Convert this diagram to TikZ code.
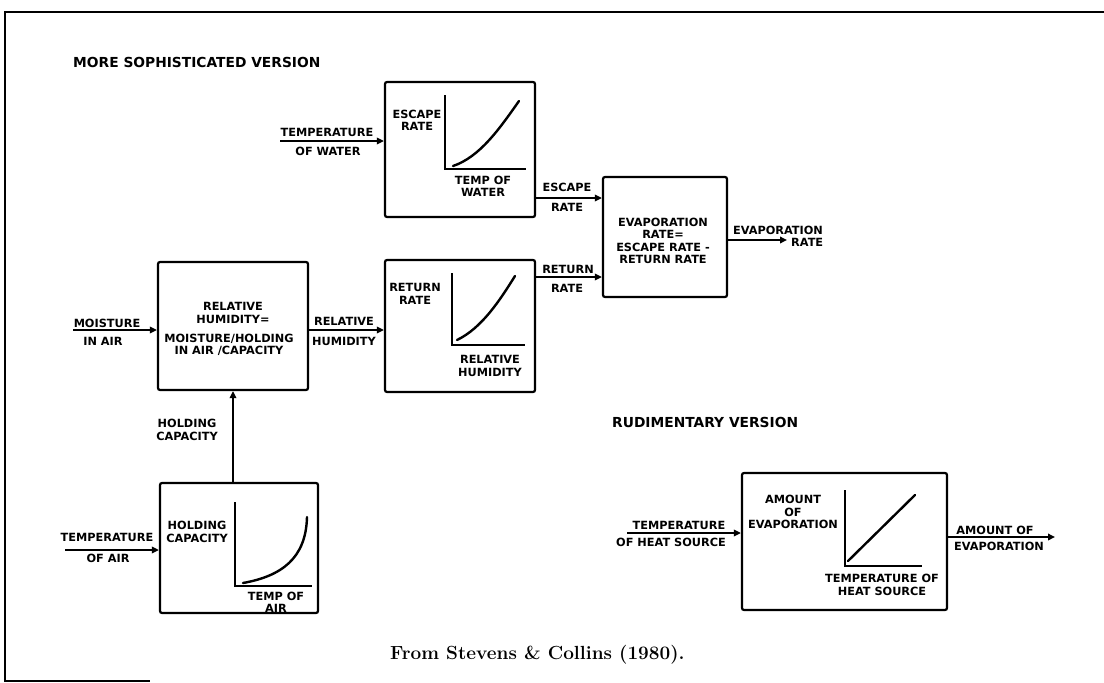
\documentclass[tikz,border=0pt]{standalone}
\usepackage{fontspec}
\usetikzlibrary{arrows.meta}
\newfontfamily\lbl{DejaVu Sans}
\begin{document}
\begin{tikzpicture}[x=1pt,y=-1pt,
  box/.style={draw,line width=2.2pt,rounded corners=2pt,inner sep=0pt},
  arr/.style={line width=2pt,-{Triangle[length=7pt,width=6.5pt]}},
  axis/.style={line width=1.8pt},
  crv/.style={line width=2.4pt,line cap=round},
  lab/.style={font=\lbl\bfseries\fontsize{11.3}{12.3}\selectfont,align=center,inner sep=0pt},
  ttl/.style={font=\lbl\bfseries\fontsize{13.8}{15}\selectfont,inner sep=0pt,anchor=west},
  frame/.style={line width=1.5pt}]
\useasboundingbox (0,0) rectangle (1104,683);
% frame
\coordinate (f1) at (5,12);
\coordinate (f2) at (1104,12);
\coordinate (f3) at (5,681);
\coordinate (f4) at (150,681);
\draw[frame] (f2) -- (f1) -- (f3) -- (f4);
% titles
\node[ttl] (t1) at (73,62) {MORE SOPHISTICATED VERSION};
\node[ttl] (t2) at (612,422) {RUDIMENTARY VERSION};
% boxes
\node[box,minimum width=150pt,minimum height=135pt] (esc) at (460,149.5) {};
\node[box,minimum width=124pt,minimum height=120pt] (evap) at (665,237) {};
\node[box,minimum width=150pt,minimum height=132pt] (ret) at (460,326) {};
\node[box,minimum width=150pt,minimum height=128pt] (rh) at (233,326) {};
\node[box,minimum width=158pt,minimum height=130pt] (hold) at (239,548) {};
\node[box,minimum width=205pt,minimum height=137pt] (amt) at (844.5,541.5) {};
% box texts
\node[lab] (escl) at (417,120) {ESCAPE\\RATE};
\node[lab] (escx) at (483,186) {TEMP OF\\WATER};
\node[lab] (evapl) at (663,241) {EVAPORATION\\RATE=\\ESCAPE RATE -\\RETURN RATE};
\node[lab] (retl) at (415,294) {RETURN\\RATE};
\node[lab] (retx) at (490,366) {RELATIVE\\HUMIDITY};
\node[lab] (rhl1) at (233,313) {RELATIVE\\HUMIDITY=};
\node[lab] (rhl2) at (229,345) {MOISTURE/HOLDING\\IN AIR /CAPACITY};
\node[lab] (holdl) at (197,532) {HOLDING\\CAPACITY};
\node[lab] (holdx) at (276,602) {TEMP OF\\AIR};
\node[lab] (amtl) at (793,512) {AMOUNT\\OF\\EVAPORATION};
\node[lab] (amtx) at (882,585) {TEMPERATURE OF\\HEAT SOURCE};
% graphs
\coordinate (eo) at (445,169);
\coordinate (ey) at (445,95);
\coordinate (ex) at (526,169);
\draw[axis] (ey) -- (eo) -- (ex);
\coordinate (ec1) at (453,166);
\coordinate (ec2) at (519,101);
\draw[crv] (ec1) .. controls (480,157) and (500,128) .. (ec2);
\coordinate (ro) at (452,345);
\coordinate (ry) at (452,273);
\coordinate (rx) at (525,345);
\draw[axis] (ry) -- (ro) -- (rx);
\coordinate (rc1) at (457,340);
\coordinate (rc2) at (515,276);
\draw[crv] (rc1) .. controls (482,328) and (500,300) .. (rc2);
\coordinate (ho) at (235,586);
\coordinate (hy) at (235,502);
\coordinate (hx) at (312,586);
\draw[axis] (hy) -- (ho) -- (hx);
\coordinate (hc1) at (243,583);
\coordinate (hc2) at (307,517);
\draw[crv] (hc1) .. controls (282,576) and (306,558) .. (hc2);
\coordinate (ao) at (845,566);
\coordinate (ay) at (845,490);
\coordinate (ax) at (922,566);
\draw[axis] (ay) -- (ao) -- (ax);
\coordinate (ac1) at (848,561);
\coordinate (ac2) at (915,495);
\draw[crv] (ac1) -- (ac2);
% connectors
\coordinate (tw) at (280,141);
\draw[arr] (tw) -- (tw -| esc.west);
\node[lab] (twl1) at (327,132) {TEMPERATURE};
\node[lab] (twl2) at (328,151) {OF WATER};
\coordinate (er) at (0,198);
\draw[arr] (esc.east |- er) -- (evap.west |- er);
\node[lab] (erl1) at (567,187) {ESCAPE};
\node[lab] (erl2) at (567,207) {RATE};
\coordinate (rr) at (0,277);
\draw[arr] (ret.east |- rr) -- (evap.west |- rr);
\node[lab] (rrl1) at (568,269) {RETURN};
\node[lab] (rrl2) at (567,288) {RATE};
\coordinate (eout) at (787,240);
\draw[arr] (evap.east |- eout) -- (eout);
\node[lab] (eoutl1) at (778,230) {EVAPORATION};
\node[lab,anchor=west] (eoutl2) at (791,242) {RATE};
\coordinate (mo) at (73,330);
\draw[arr] (mo) -- (mo -| rh.west);
\node[lab] (mol1) at (107,323) {MOISTURE};
\node[lab] (mol2) at (103,341) {IN AIR};
\coordinate (rhy) at (0,330);
\draw[arr] (rh.east |- rhy) -- (ret.west |- rhy);
\node[lab] (rhyl1) at (344,321) {RELATIVE};
\node[lab] (rhyl2) at (344,341) {HUMIDITY};
\coordinate (hcx) at (233,0);
\draw[arr] (hcx |- hold.north) -- (hcx |- rh.south);
\node[lab] (hcl) at (187,430) {HOLDING\\CAPACITY};
\coordinate (ta) at (65,550);
\draw[arr] (ta) -- (ta -| hold.west);
\node[lab] (tal1) at (107,537) {TEMPERATURE};
\node[lab] (tal2) at (108,558) {OF AIR};
\coordinate (th) at (627,533);
\draw[arr] (th) -- (th -| amt.west);
\node[lab] (thl1) at (679,525) {TEMPERATURE};
\node[lab] (thl2) at (671,542) {OF HEAT SOURCE};
\coordinate (aout) at (1055,537);
\draw[arr] (amt.east |- aout) -- (aout);
\node[lab] (aoutl1) at (995,530) {AMOUNT OF};
\node[lab] (aoutl2) at (999,546) {EVAPORATION};
% caption
\node[font=\bfseries\fontsize{19}{22}\selectfont,anchor=west,inner sep=0pt] (cap) at (390,655) {From Stevens \& Collins (1980).};
\end{tikzpicture}
\end{document}
